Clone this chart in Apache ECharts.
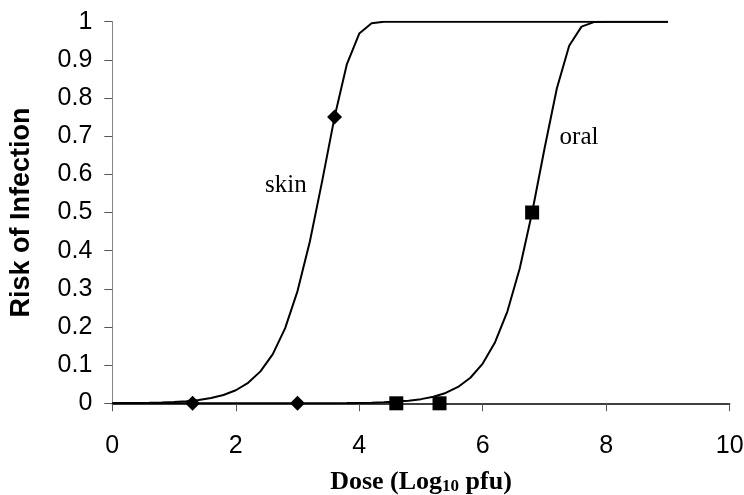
<!DOCTYPE html>
<html>
<head>
<meta charset="utf-8">
<script src="https://cdn.jsdelivr.net/npm/echarts@6/dist/echarts.min.js"></script>
<style>
  html, body { margin: 0; padding: 0; background: #fff; }
  #chart { width: 744px; height: 495px; }
</style>
</head>
<body>
<div id="chart"></div>
<script>
// Dose grid (log10 pfu) on which the fitted dose-response curves are drawn
const doseGrid = [
  0, 0.2, 0.4, 0.6, 0.8, 1.0, 1.2, 1.4, 1.6, 1.8,
  2.0, 2.2, 2.4, 2.6, 2.8, 3.0, 3.2, 3.4, 3.6, 3.8,
  4.0, 4.2, 4.4, 4.6, 4.8, 5.0, 5.2, 5.4, 5.6, 5.8,
  6.0, 6.2, 6.4, 6.6, 6.8, 7.0, 7.2, 7.4, 7.6, 7.8,
  8.0, 8.2, 8.4, 8.6, 8.8, 9.0
];

// Fitted risk of infection, skin exposure
const skinRisk = [
  0.0003, 0.0006, 0.0009, 0.0014, 0.0022, 0.0035, 0.0055, 0.0087, 0.0138, 0.0217,
  0.0342, 0.0537, 0.0837, 0.129, 0.197, 0.294, 0.424, 0.583, 0.750, 0.889,
  0.969, 0.996, 1, 1, 1, 1, 1, 1, 1, 1,
  1, 1, 1, 1, 1, 1, 1, 1, 1, 1,
  1, 1, 1, 1, 1, 1
];

// Fitted risk of infection, oral exposure
const oralRisk = [
  0, 0, 0, 0, 0, 0, 0, 0, 0, 0,
  0, 0, 0, 0, 0, 0.0001, 0.0002, 0.0003, 0.0004, 0.0007,
  0.0011, 0.0017, 0.0028, 0.0044, 0.0069, 0.0109, 0.0172, 0.0272, 0.0428, 0.0669,
  0.104, 0.160, 0.241, 0.354, 0.500, 0.667, 0.825, 0.937, 0.987, 0.999,
  1, 1, 1, 1, 1, 1
];

// Observed data points
const skinObsDose = [1.3, 3.0, 3.6];
const skinObsRisk = [0, 0, 0.75];
const oralObsDose = [4.6, 5.3, 6.8];
const oralObsRisk = [0, 0, 0.5];

// Curve labels: [dose, risk, text]
const curveLabels = [
  [2.81, 0.571, 'skin'],
  [7.56, 0.696, 'oral']
];

const xTicks = { min: 0, max: 10, step: 2 };
const yTicks = { min: 0, max: 1, step: 0.1 };

const zip = (xs, ys) => xs.map((x, i) => [x, ys[i]]);

const chart = echarts.init(document.getElementById('chart'), null, { renderer: 'canvas' });

const sansTick = { fontFamily: 'Liberation Sans', fontSize: 25, color: '#000' };

chart.setOption({
  animation: false,
  backgroundColor: '#fff',
  grid: {
    left: 112.3, right: 14.3, top: 21.7, bottom: 91.7,
    containLabel: false, outerBoundsMode: 'none'
  },
  xAxis: {
    type: 'value',
    min: xTicks.min, max: xTicks.max, interval: xTicks.step,
    name: 'Dose (Log{sub|10} pfu)',
    nameLocation: 'middle',
    nameGap: 65,
    nameTextStyle: {
      fontFamily: 'Liberation Serif', fontWeight: 'bold', fontSize: 26, color: '#000',
      rich: {
        sub: { fontFamily: 'Liberation Serif', fontWeight: 'bold', fontSize: 17, color: '#000', verticalAlign: 'bottom', padding: [10, 0, 0, 0] }
      }
    },
    axisLine: { show: true, onZero: false, lineStyle: { color: '#000', width: 1.5 } },
    axisTick: { show: true, inside: false, length: 8, lineStyle: { color: '#555', width: 1 } },
    axisLabel: Object.assign({ margin: 30 }, sansTick),
    splitLine: { show: false }
  },
  yAxis: {
    type: 'value',
    min: yTicks.min, max: yTicks.max, interval: yTicks.step,
    name: 'Risk of Infection',
    nameLocation: 'middle',
    nameGap: 77,
    nameTextStyle: { fontFamily: 'Liberation Sans', fontWeight: 'bold', fontSize: 27, color: '#000' },
    axisLine: { show: true, lineStyle: { color: '#868686', width: 1 } },
    axisTick: { show: true, inside: false, length: 8, lineStyle: { color: '#555', width: 1 } },
    axisLabel: Object.assign({ margin: 20 }, sansTick),
    splitLine: { show: false }
  },
  series: [
    {
      name: 'skin fit', type: 'line', data: zip(doseGrid, skinRisk),
      showSymbol: false, smooth: false,
      lineStyle: { color: '#000', width: 2 }, z: 2
    },
    {
      name: 'oral fit', type: 'line', data: zip(doseGrid, oralRisk),
      showSymbol: false, smooth: false,
      lineStyle: { color: '#000', width: 2 }, z: 2
    },
    {
      name: 'skin observed', type: 'scatter', data: zip(skinObsDose, skinObsRisk),
      symbol: 'diamond', symbolSize: [15, 15],
      itemStyle: { color: '#000', opacity: 1 }, z: 3
    },
    {
      name: 'oral observed', type: 'scatter', data: zip(oralObsDose, oralObsRisk),
      symbol: 'rect', symbolSize: [14, 14],
      itemStyle: { color: '#000', opacity: 1 }, z: 3
    },
    {
      name: 'curve labels', type: 'scatter', data: curveLabels,
      symbolSize: 0, silent: true,
      itemStyle: { opacity: 1 },
      label: {
        show: true, position: 'inside',
        formatter: p => p.value[2],
        fontFamily: 'Liberation Serif', fontSize: 25, color: '#000'
      },
      z: 4
    }
  ]
});
</script>
</body>
</html>
